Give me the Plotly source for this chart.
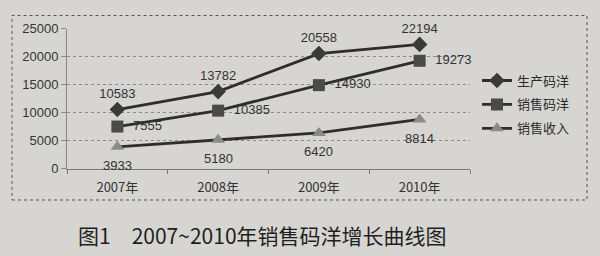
import plotly.graph_objects as go

categories = ["2007年", "2008年", "2009年", "2010年"]
production = [10583, 13782, 20558, 22194]
sales = [7555, 10385, 14930, 19273]
revenue = [3933, 5180, 6420, 8814]
series_names = ["生产码洋", "销售码洋", "销售收入"]
y_ticks = [0, 5000, 10000, 15000, 20000, 25000]
caption = "图1　2007~2010年销售码洋增长曲线图"

BG = "#d7d5d1"
LINE = "#2e2e2e"
FONT = "Liberation Sans, Noto Sans CJK SC, sans-serif"
CJK = "Noto Sans CJK SC, sans-serif"

fig = go.Figure()
fig.add_trace(go.Scatter(
    x=categories, y=production, name=series_names[0], mode="lines+markers+text",
    line=dict(color=LINE, width=2.8), marker=dict(symbol="diamond", size=12, color="#3a3a3a"),
    text=[str(v) for v in production], textposition="top center", cliponaxis=False,
    textfont=dict(size=13, color="#333333", family=FONT), legendgroup="a"))
fig.add_trace(go.Scatter(
    x=categories, y=sales, name=series_names[1], mode="lines+markers+text",
    line=dict(color=LINE, width=2.8), marker=dict(symbol="square", size=12, color="#4a4a4a"),
    text=["  " + str(v) for v in sales], textposition="middle right", cliponaxis=False,
    textfont=dict(size=13, color="#333333", family=FONT), legendgroup="b"))
fig.add_trace(go.Scatter(
    x=categories, y=revenue, name=series_names[2], mode="lines+markers",
    line=dict(color=LINE, width=2.8), marker=dict(symbol="triangle-up", size=12, color="#8a8a8a"),
    cliponaxis=False, legendgroup="c"))

annotations = [dict(x=c, y=v, xref="x", yref="y", text=str(v), showarrow=False,
                    yshift=-19, font=dict(size=13, color="#333333", family=FONT))
               for c, v in zip(categories, revenue)]
annotations.append(dict(text=caption, xref="paper", yref="paper",
                        x=262/600, y=(256-242)/256, xanchor="center", yanchor="middle",
                        showarrow=False,
                        font=dict(size=21, color="#1f1f1f", family=CJK)))

fig.update_layout(
    width=600, height=256,
    margin=dict(l=0, r=0, t=0, b=0),
    paper_bgcolor=BG, plot_bgcolor=BG,
    showlegend=True,
    legend=dict(x=0.795, y=0.757, xanchor="left", yanchor="top",
                font=dict(size=13, color="#2a2a2a", family=CJK),
                bgcolor="rgba(0,0,0,0)", tracegroupgap=4, itemwidth=30),
    xaxis=dict(domain=[67/600, 470/600], showgrid=False, tickson="boundaries",
               ticks="outside", ticklen=4, tickcolor="#777777",
               showline=True, linecolor="#777777", linewidth=1,
               ticklabelstandoff=6,
               tickfont=dict(size=13, color="#333333", family=CJK),
               range=[-0.5, 3.5]),
    yaxis=dict(domain=[(256-172)/256, (256-23)/256], range=[0, 25000],
               tickvals=y_ticks, ticktext=[str(v) for v in y_ticks],
               ticks="outside", ticklen=5, tickcolor="#888888",
               showgrid=True, gridcolor="#8a8a8a", griddash="dot", gridwidth=1,
               showline=True, linecolor="#8a8a8a", zeroline=False,
               tickfont=dict(size=13, color="#333333", family=FONT)),
    shapes=[dict(type="rect", xref="paper", yref="paper",
                 x0=12/600, x1=587/600, y0=(256-205)/256, y1=(256-9)/256,
                 line=dict(color="#555555", width=1, dash="dot"))],
    annotations=annotations,
)

fig.write_html("out.html")
